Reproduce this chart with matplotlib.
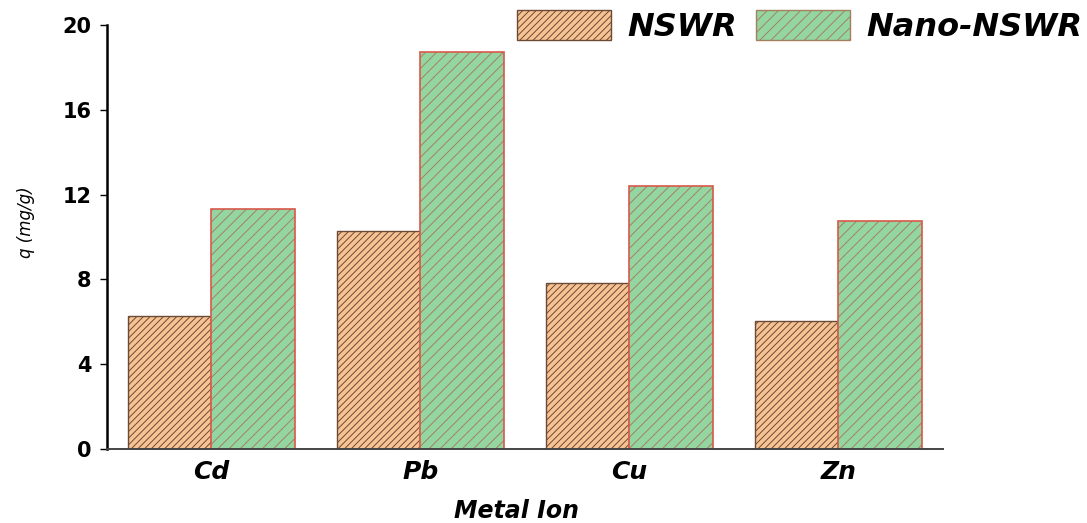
import matplotlib

matplotlib.use("Agg")
import matplotlib.pyplot as plt
import numpy as np
from matplotlib.patches import Patch

METALS = ["Cd", "Pb", "Cu", "Zn"]
NSWR = [6.27, 10.28, 7.83, 6.04]
NANO_NSWR = [11.3, 18.73, 12.4, 10.75]
Y_TICKS = [0, 4, 8, 12, 16, 20]

NSWR_FILL = "#f8c393"
NSWR_EDGE = "#6b4a36"
NANO_FILL = "#93d6a2"
NANO_HATCH = "#a5805f"
NANO_EDGE = "#d9574a"


def main():
    plt.rcParams.update({"font.family": ["DejaVu Sans"], "hatch.linewidth": 0.7})
    fig = plt.figure(figsize=(10.87, 5.23), dpi=100)
    ax = fig.add_axes([0.0984, 0.1415, 0.7691, 0.8105])

    x = np.arange(len(METALS))
    w = 0.4
    ax.bar(x - w / 2, NSWR, w, color=NSWR_FILL, edgecolor=NSWR_EDGE, hatch="/////", linewidth=1.0)
    # hatch takes the edge colour, so the red outline is drawn on top separately
    ax.bar(x + w / 2, NANO_NSWR, w, color=NANO_FILL, edgecolor=NANO_HATCH, hatch="///", linewidth=0)
    ax.bar(x + w / 2, NANO_NSWR, w, fill=False, edgecolor=NANO_EDGE, linewidth=1.2)

    ax.set_xlim(-0.5, 3.5)
    ax.set_ylim(0, 20)
    ax.set_yticks(Y_TICKS)
    ax.set_xticks(x)
    ax.set_xticklabels(METALS, fontsize=18, fontweight="bold", fontstyle="italic")
    for lab in ax.get_yticklabels():
        lab.set_fontweight("bold")
    ax.tick_params(axis="y", labelsize=15, length=5, width=1.0, direction="out", pad=6)
    ax.tick_params(axis="x", length=0, pad=8)
    ax.spines["top"].set_visible(False)
    ax.spines["right"].set_visible(False)
    ax.spines["left"].set_linewidth(1.8)
    ax.spines["bottom"].set_linewidth(1.4)
    ax.spines["bottom"].set_color("#444444")

    ax.set_xlabel("Metal Ion", fontsize=17, fontweight="bold", fontstyle="italic")
    ax.xaxis.set_label_coords(0.49, -0.118)
    ax.set_ylabel("q (mg/g)", fontsize=12, fontstyle="italic")
    ax.yaxis.set_label_coords(-0.086, 0.535)

    handles = [
        Patch(facecolor=NSWR_FILL, edgecolor=NSWR_EDGE, hatch="/////", linewidth=1.0),
        Patch(facecolor=NANO_FILL, edgecolor=NANO_HATCH, hatch="///", linewidth=1.0),
    ]
    fig.legend(handles, ["NSWR", "Nano-NSWR"], loc="upper right", bbox_to_anchor=(1.022, 1.036), ncol=2,
               frameon=False, prop={"size": 23, "weight": "bold", "style": "italic"},
               handlelength=2.95, handleheight=1.08, handletextpad=0.5, columnspacing=0.6)

    fig.savefig("out.png", dpi=100)
    plt.close(fig)


if __name__ == "__main__":
    main()
